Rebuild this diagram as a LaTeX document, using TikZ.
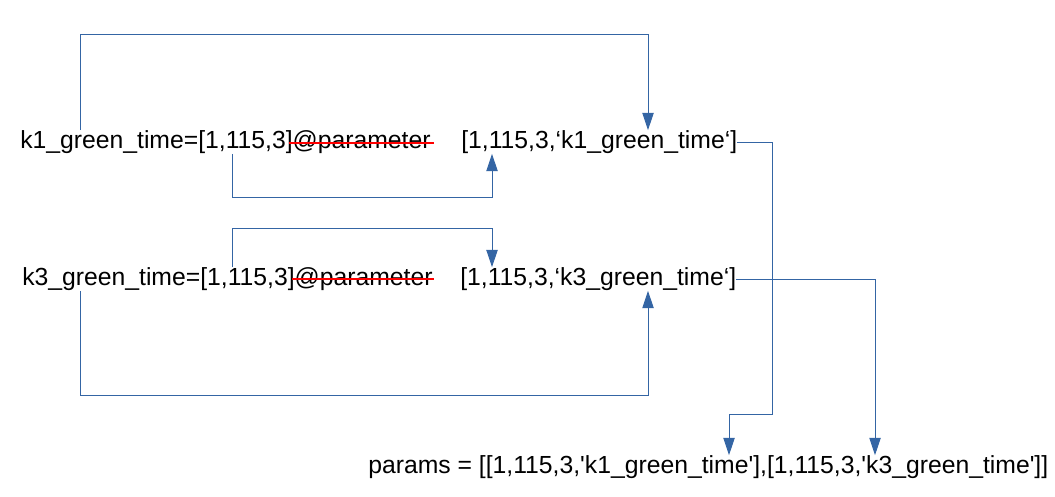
\documentclass[tikz,border=0pt]{standalone}
\usepackage{fontspec}
\setmainfont{Liberation Sans}
\usetikzlibrary{arrows.meta}
\definecolor{linkblue}{HTML}{3465A4}

\begin{document}
\begin{tikzpicture}[x=0.75pt,y=0.75pt,yscale=-1,xscale=1,
  txt/.style={inner sep=0pt, anchor=west, font=\fontsize{18.55}{22}\selectfont},
  link/.style={draw=linkblue, line width=0.75pt, -{Triangle[width=8.5pt,length=13pt]}},
  strike/.style={draw=red, line width=0.9pt}]
\useasboundingbox (0,0) rectangle (1055,496);

% Text Nodes
\node[txt] (k1) at (20,142) {k1\_green\_time=[1,115,3]@parameter};
\node[txt] (v1) at (461,142) {[1,115,3,‘k1\_green\_time‘]};
\node[txt] (k3) at (22,279) {k3\_green\_time=[1,115,3]@parameter};
\node[txt] (v3) at (460,279) {[1,115,3,‘k3\_green\_time‘]};
\node[txt] (pr) at (368,467) {params = [[1,115,3,\textquotesingle k1\_green\_time\textquotesingle],[1,115,3,\textquotesingle k3\_green\_time\textquotesingle]]};

% Crossed out text
\draw[strike] (k1.east) ++(-142,1) -- ++(145,0);
\draw[strike] (k3.east) ++(-141,0) -- ++(142,0);

% Connectors
\draw[link] (80,0 |- k1.north) |- (648,34) -- (648,0 |- v1.north);
\draw[link] (232,0 |- k1.south) |- (492,197) -- (492,0 |- v1.south);
\draw[link] (232,0 |- k3.north) |- (492,228) -- (492,0 |- v3.north);
\draw[link] (80,0 |- k3.south) |- (648,395) -- (648,0 |- v3.south);
\draw[link] (v1.east) -| (772,414) -| (729,0 |- pr.north);
\draw[link] (v3.east) -| (875,0 |- pr.north);
\end{tikzpicture}
\end{document}
